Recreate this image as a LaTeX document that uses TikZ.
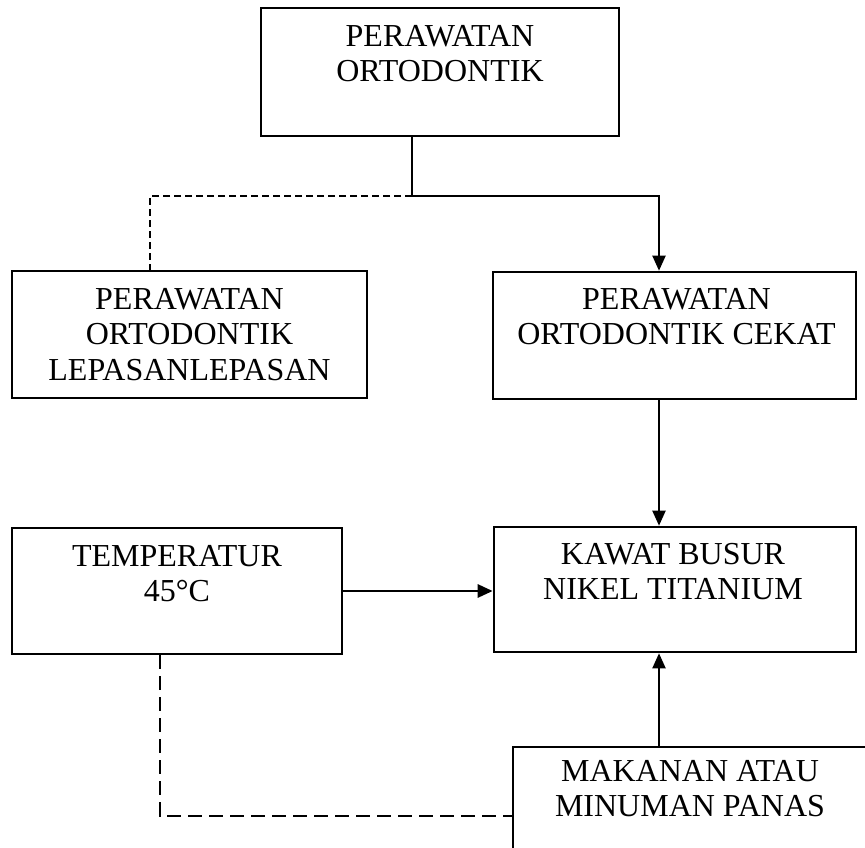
\documentclass[tikz,border=0pt]{standalone}
\usepackage{fontspec}
\setmainfont{Liberation Serif}
\usetikzlibrary{positioning,arrows.meta}

\tikzset{
  kotak/.style={draw, line width=2.6pt, inner sep=0pt},
  teks/.style={inner sep=0pt, align=center, font=\fontsize{32}{35.5}\selectfont},
  garis/.style={line width=2pt},
  panah/.style={garis, -{Triangle[length=15pt,width=13pt]}},
  putus halus/.style={dash pattern=on 7pt off 4pt},
  putus kasar/.style={dash pattern=on 14pt off 7pt},
}

\begin{document}
\begin{tikzpicture}[x=1pt,y=-1pt]
 \clip (0,0) rectangle (865,848);
 \fill[white] (0,0) rectangle (865,848);
 % kotak-kotak
 \node[kotak, minimum width=358pt, minimum height=128pt] (ortho) at (440,72) {};
 \node[kotak, minimum width=355pt, minimum height=127pt] (lepas) at (189.5,334.5) {};
 \node[kotak, minimum width=363pt, minimum height=127pt] (cekat) at (674.5,335.5) {};
 \node[kotak, minimum width=330pt, minimum height=126pt] (temp) at (177,591) {};
 \node[kotak, minimum width=362pt, minimum height=125pt] (kawat) at (675,589.5) {};
 \node[kotak, minimum width=354pt, minimum height=113pt] (makan) at (690,803.5) {};
 % tulisan
 \node[teks, below=18pt of ortho.north] (ortho-t) {PERAWATAN\\ORTODONTIK};
 \node[teks, below=18pt of lepas.north] (lepas-t) {PERAWATAN\\ORTODONTIK\\LEPASANLEPASAN};
 \node[teks, below=17pt of cekat.north, xshift=2pt] (cekat-t) {PERAWATAN\\ORTODONTIK CEKAT};
 \node[teks, below=18pt of temp.north] (temp-t) {TEMPERATUR\\45°C};
 \node[teks, below=17pt of kawat.north, xshift=-2pt] (kawat-t) {KAWAT BUSUR\\NIKEL TITANIUM};
 \node[teks, below=14pt of makan.north] (makan-t) {MAKANAN ATAU\\MINUMAN PANAS};
 % penghubung
 \coordinate (cabang) at (412,196);
 \coordinate (tengah) at (659,0);
 \coordinate (sudut) at (160,816);
 \draw[garis] (ortho.south -| cabang) -- (cabang);
 \draw[panah] (cabang) -| (cekat.north -| tengah);
 \draw[garis, putus halus] (cabang) -| ([xshift=-39.5pt]lepas.north);
 \draw[panah] (cekat.south -| tengah) -- (kawat.north -| tengah);
 \draw[panah, line width=2.8pt] (temp.east) -- (temp.east -| kawat.west);
 \draw[panah] (makan.north -| tengah) -- (kawat.south -| tengah);
 \draw[garis, putus kasar, line width=2.4pt] (temp.south -| sudut) -- (sudut) -- (sudut -| makan.west);
\end{tikzpicture}
\end{document}
